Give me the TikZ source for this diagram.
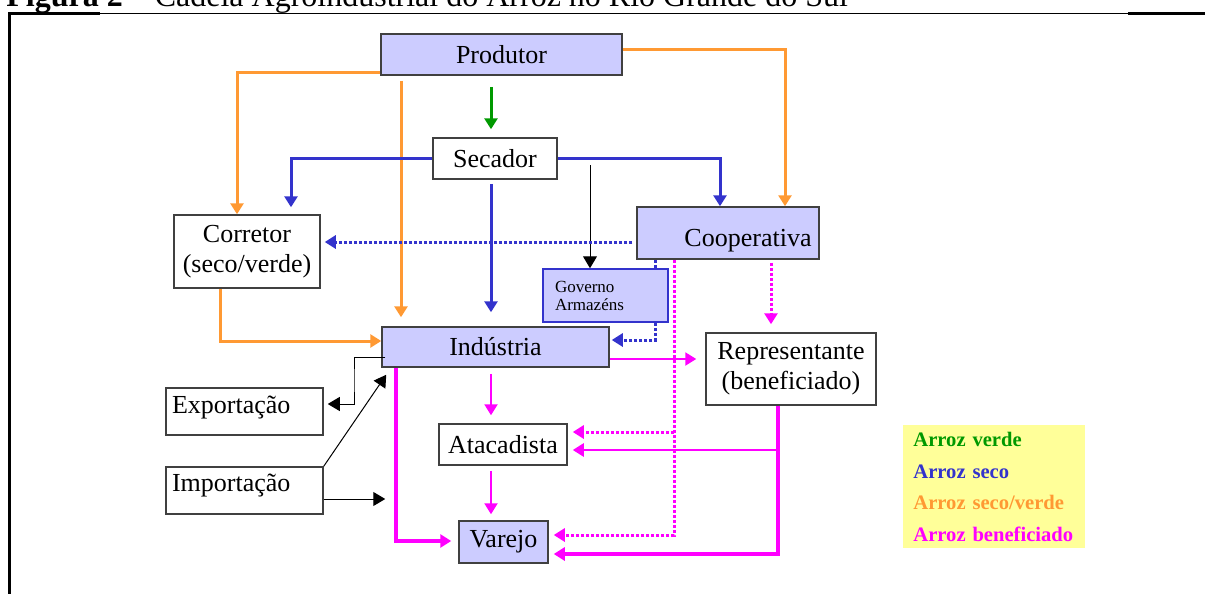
\documentclass[tikz,border=0pt]{standalone}
\usepackage{fontspec}
\setmainfont{Liberation Serif}
\usetikzlibrary{arrows.meta}
\definecolor{lav}{HTML}{CCCCFF}
\definecolor{orn}{HTML}{FF9933}
\definecolor{blu}{HTML}{3333CC}
\definecolor{grn}{HTML}{009900}
\definecolor{mag}{HTML}{FF00FF}
\definecolor{yel}{HTML}{FFFF99}
\definecolor{bord}{HTML}{404040}
\begin{document}
\begin{tikzpicture}[x=0.5pt,y=-0.5pt,
  box/.style={draw=bord, line width=0.75pt, inner sep=0pt, font=\fontsize{13}{15}\selectfont, align=center},
  lbox/.style={box, fill=lav},
  gbox/.style={draw=blu, fill=lav, line width=0.75pt, inner xsep=6pt, inner ysep=0pt, align=left, font=\fontsize{8.5}{9}\selectfont},
  ctip/.style={-{Triangle[length=5.5pt,width=6.5pt]}},
  btip/.style={-{Triangle[length=6pt,width=7pt]}},
  ornl/.style={draw=orn, line width=1.5pt, ctip},
  grnl/.style={draw=grn, line width=1.5pt, ctip},
  blul/.style={draw=blu, line width=1.5pt, ctip},
  blud/.style={draw=blu, line width=1.5pt, dash pattern=on 1.5pt off 1pt, ctip},
  bluds/.style={draw=blu, line width=1.5pt, dash pattern=on 1.5pt off 1pt},
  magl/.style={draw=mag, line width=1.1pt, ctip},
  magt/.style={draw=mag, line width=2pt, ctip},
  magd/.style={draw=mag, line width=1.5pt, dash pattern=on 1.5pt off 1pt, ctip},
  blkl/.style={draw=black, line width=0.5pt, btip}
]
\useasboundingbox (0,0) rectangle (1207,594);

% title and frame
\node[anchor=base west, inner sep=0pt, font=\fontsize{16}{18}\selectfont] (title) at (6,6)
  {\textbf{Figura 2} – Cadeia Agroindustrial do Arroz no Rio Grande do Sul};
\draw[line width=0.75pt] (8,13.5) -- (1205,13.5);
\draw[line width=1.3pt] (8,13.5) -- (100,13.5);
\draw[line width=1.3pt] (1128,13.5) -- (1205,13.5);
\draw[line width=1.3pt] (9.5,13) -- (9.5,594);

% nodes
\node[lbox, minimum width=120.5pt, minimum height=20.5pt] (prod) at (501.5,54.5) {Produtor};
\node[box, minimum width=62pt, minimum height=20.5pt] (sec) at (495,158.5) {Secador};
\node[box, minimum width=73pt, minimum height=36.5pt] (corr) at (247,251.5) {Corretor\\(seco/verde)};
\node[lbox, minimum width=91pt, minimum height=26pt] (coop) at (728,233) {};
\node[inner sep=0pt, font=\fontsize{13}{15}\selectfont] (cooptxt) at (748,241) {Cooperativa};
\node[gbox, minimum width=62.5pt, minimum height=26.5pt, text width=50.5pt] (gov) at (605.5,295.5) {Governo\\Armazéns};
\node[lbox, minimum width=113.5pt, minimum height=20pt] (ind) at (495.5,347) {Indústria};
\node[box, minimum width=85pt, minimum height=36pt] (rep) at (791,369) {Representante\\(beneficiado)};
\node[box, minimum width=78.5pt, minimum height=23.5pt, text width=72.5pt, inner xsep=3pt, align=left, text depth=7pt] (exp) at (244.5,411.5) {Exportação};
\node[box, minimum width=78.5pt, minimum height=23.5pt, text width=72.5pt, inner xsep=3pt, align=left, text depth=8pt] (imp) at (244.5,490.5) {Importação};
\node[box, minimum width=64pt, minimum height=20.5pt] (ata) at (503,444.5) {Atacadista};
\node[lbox, minimum width=44.5pt, minimum height=21pt] (vare) at (503.5,542) {Varejo};
\node[fill=yel, anchor=north west, minimum width=91pt, minimum height=61.5pt, text width=81pt,
      inner xsep=5pt, inner ysep=0pt, align=left, font=\bfseries\fontsize{10.3}{15.8}\selectfont] (leg) at (903,425)
  {\textcolor{grn}{Arroz verde}\\\textcolor{blu}{Arroz seco}\\\textcolor{orn}{Arroz seco/verde}\\\textcolor{mag}{Arroz beneficiado}};

% orange
\draw[ornl] (prod.west |- 0,72) -| (237,0 |- corr.north);
\draw[ornl, shorten <=2.5pt, shorten >=4.5pt] (401,0 |- prod.south) -- (401,0 |- ind.north);
\draw[ornl] (prod.east |- 0,49) -| (785,0 |- coop.north);
\draw[ornl] (220,0 |- corr.south) |- (ind.west |- 0,341);
% green
\draw[grnl, shorten <=5.5pt, shorten >=4pt] (491,0 |- prod.south) -- (491,0 |- sec.north);
% blue
\draw[blul, shorten >=3.5pt] (sec.west) -| (291,0 |- corr.north);
\draw[blul] (sec.east) -| (720,0 |- coop.north);
\draw[blul, shorten <=2pt, shorten >=7pt] (491,0 |- sec.south) -- (491,0 |- ind.north);
% black to governo
\coordinate (gs) at (590,165);
\draw[blkl] (gs) -- (gs |- gov.north);
% blue dotted
\draw[blud, shorten <=2pt, shorten >=2pt] (coop.west |- 0,242) -- (corr.east |- 0,242);
\draw[bluds] (655,0 |- coop.south) -- (655,0 |- gov.north);
\draw[blud, shorten >=1pt] (655,0 |- gov.south) |- (ind.east |- 0,340);
% magenta dotted
\draw[magd, shorten >=2.5pt] (674,0 |- coop.south) |- (vare.east |- 0,535);
\coordinate (mb) at (674,432);
\draw[magd, shorten >=2.5pt] (mb) -- (ata.east |- mb);
\draw[magd, shorten <=1.5pt, shorten >=4pt] (771,0 |- coop.south) -- (771,0 |- rep.north);
% magenta solid
\draw[magl, shorten >=4.5pt] (ind.east |- 0,359) -- (rep.west |- 0,359);
\draw[magt, shorten >=2.5pt] (778,0 |- rep.south) |- (vare.east |- 0,554);
\coordinate (rb) at (778,450);
\draw[magl, line width=1.3pt, shorten >=2.5pt] (rb) -- (ata.east |- rb);
\draw[magl, shorten <=3pt, shorten >=4pt] (491,0 |- ind.south) -- (491,0 |- ata.north);
\draw[magl, shorten <=2.5pt, shorten >=3pt] (491,0 |- ata.south) -- (491,0 |- vare.north);
\draw[magt, shorten >=3.5pt] (396,0 |- ind.south) |- (vare.west |- 0,541);
% black
\draw[blkl, shorten <=-2pt, shorten >=2pt] (ind.west |- 0,357) -| (354,380) |- (exp.east |- 0,404);
\draw[blkl] (imp.north east) -- ([shift={(5,7)}]ind.south west);
\draw[blkl, shorten >=-2pt] (imp.east |- 0,499) -- (ind.west |- 0,499);
\end{tikzpicture}
\end{document}
